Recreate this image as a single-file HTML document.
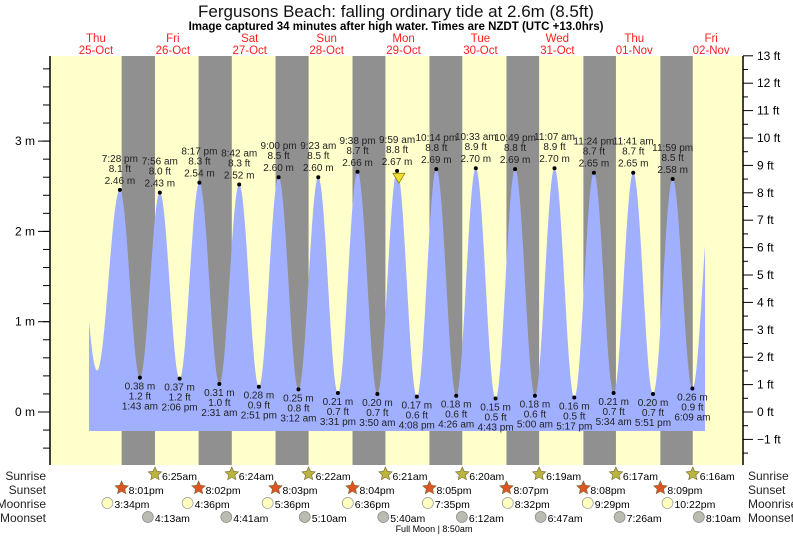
<!DOCTYPE html>
<html><head><meta charset="utf-8"><style>
body{margin:0;background:#fff;}
svg{display:block;font-family:"Liberation Sans",sans-serif;}
</style></head><body>
<svg id="s" width="793" height="537" xmlns="http://www.w3.org/2000/svg"></svg>
<script>
const s=document.getElementById('s');
let h='';
const X0=57.5, D=76.9, H=D/24;
const Y=m=>412-90.3*m;
function tx(day,hh,mm){return X0+(day-25)*D+(hh+mm/60)*H;}
h+=`<text x="396" y="17" font-size="17" text-anchor="middle" fill="#111">Fergusons Beach: falling  ordinary tide at 2.6m (8.5ft)</text>`;
h+=`<text x="396" y="30" font-size="11.5" font-weight="bold" text-anchor="middle">Image captured 34 minutes after high water. Times are NZDT (UTC +13.0hrs)</text>`;
h+=`<rect x="50" y="56" width="693" height="409" fill="#ffffcc"/>`;
const sr=[null,[6,25],[6,24],[6,22],[6,21],[6,20],[6,19],[6,17],[6,16]];
const ss=[[20,1],[20,2],[20,3],[20,4],[20,5],[20,7],[20,8],[20,9]];
for(let i=0;i<8;i++){
 const a=tx(25+i,ss[i][0],ss[i][1]); const b=tx(26+i,sr[i+1][0],sr[i+1][1]);
 h+=`<rect x="${a}" y="56" width="${b-a}" height="409" fill="#909090"/>`;
}
const ex=[
[25,12,20,0.46],[25,19,28,2.46],[26,1,43,0.38],[26,7,56,2.43],[26,14,6,0.37],[26,20,17,2.54],
[27,2,31,0.31],[27,8,42,2.52],[27,14,51,0.28],[27,21,0,2.60],[28,3,12,0.25],[28,9,23,2.60],
[28,15,31,0.21],[28,21,38,2.66],[29,3,50,0.20],[29,9,59,2.67],[29,16,8,0.17],[29,22,14,2.69],
[30,4,26,0.18],[30,10,33,2.70],[30,16,43,0.15],[30,22,49,2.69],[31,5,0,0.18],[31,11,7,2.70],
[31,17,17,0.16],[31,23,24,2.65],[32,5,34,0.21],[32,11,41,2.65],[32,17,51,0.20],[32,23,59,2.58],
[33,6,9,0.26],[33,12,20,2.5]];
const pts=ex.map(e=>[tx(e[0],e[1],e[2]),e[3]]);
pts.unshift([tx(25,6,10),2.0]);
let p=`M89 431`;
const xs=89,xe=705;
for(let x=xs;x<=xe;x+=0.5){
 let k=0;while(k<pts.length-2&&pts[k+1][0]<x)k++;
 const [x1,y1]=pts[k],[x2,y2]=pts[k+1];
 const t=(x-x1)/(x2-x1);
 const v=y1+(y2-y1)*(1-Math.cos(Math.PI*t))/2;
 p+=` L${x} ${Y(v).toFixed(1)}`;
}
p+=` L${xe} 431 Z`;
h+=`<path d="${p}" fill="#a0b0ff"/>`;
const hl=[["7:28 pm","8.1"],["7:56 am","8.0"],["8:17 pm","8.3"],["8:42 am","8.3"],["9:00 pm","8.5"],["9:23 am","8.5"],["9:38 pm","8.7"],["9:59 am","8.8"],["10:14 pm","8.8"],["10:33 am","8.9"],["10:49 pm","8.8"],["11:07 am","8.9"],["11:24 pm","8.7"],["11:41 am","8.7"],["11:59 pm","8.5"]];
const ll=[["1:43 am","1.2"],["2:06 pm","1.2"],["2:31 am","1.0"],["2:51 pm","0.9"],["3:12 am","0.8"],["3:31 pm","0.7"],["3:50 am","0.7"],["4:08 pm","0.6"],["4:26 am","0.6"],["4:43 pm","0.5"],["5:00 am","0.6"],["5:17 pm","0.5"],["5:34 am","0.7"],["5:51 pm","0.7"],["6:09 am","0.9"]];
let hi=0,lo=0;
for(let i=1;i<ex.length-1;i++){
 const e=ex[i],x=tx(e[0],e[1],e[2]),y=Y(e[3]);
 h+=`<circle cx="${x}" cy="${y}" r="2" fill="#000"/>`;
 if(e[3]>1){const l=hl[hi++];
  h+=`<text font-size="10" text-anchor="middle" fill="#222"><tspan x="${x}" y="${y-28}">${l[0]}</tspan><tspan x="${x}" y="${y-18}">${l[1]} ft</tspan><tspan x="${x}" y="${y-6}">${e[3].toFixed(2)} m</tspan></text>`;
 }else{const l=ll[lo++];
  h+=`<text font-size="10" text-anchor="middle" fill="#222"><tspan x="${x}" y="${y+12}">${e[3].toFixed(2)} m</tspan><tspan x="${x}" y="${y+22}">${l[1]} ft</tspan><tspan x="${x}" y="${y+32}">${l[0]}</tspan></text>`;
 }
}
const mx=tx(29,10,33),my=Y(2.6);
h+=`<polygon points="${mx-6},${my-4} ${mx+6},${my-4} ${mx},${my+6}" fill="#eedd33" stroke="#887700" stroke-width="0.7"/>`;
h+=`<line x1="50" y1="56" x2="50" y2="465" stroke="#000" stroke-width="1.5"/><line x1="743" y1="56" x2="743" y2="465" stroke="#000" stroke-width="1.5"/>`;
for(let m=-0.4;m<=3.9;m+=0.2){const y=Y(m);if(y<56||y>465)continue;h+=`<line x1="43" x2="50" y1="${y}" y2="${y}" stroke="#000"/>`;}
for(let m=0;m<=3;m++){h+=`<line x1="38" x2="50" y1="${Y(m)}" y2="${Y(m)}" stroke="#000"/><text x="35" y="${Y(m)+4}" font-size="12" text-anchor="end">${m} m</text>`;}
for(let f=-1.5;f<=13;f+=0.5){const y=412-f*27.4;const big=Number.isInteger(f);
 h+=`<line x1="743" x2="${big?753:748}" y1="${y}" y2="${y}" stroke="#000"/>`;
 if(big)h+=`<text x="757" y="${y+4}" font-size="12">${f<0?'\u22121':f} ft</text>`;}
const dn=["Thu","Fri","Sat","Sun","Mon","Tue","Wed","Thu","Fri"];
const dd=["25-Oct","26-Oct","27-Oct","28-Oct","29-Oct","30-Oct","31-Oct","01-Nov","02-Nov"];
for(let i=0;i<9;i++){const x=tx(25+i,12,0);h+=`<text x="${x}" y="42" font-size="11.5" fill="#ff2020" text-anchor="middle">${dn[i]}</text><text x="${x}" y="54" font-size="11.5" fill="#ff2020" text-anchor="middle">${dd[i]}</text>`;}
const rows=[["Sunrise",476],["Sunset",490],["Moonrise",504],["Moonset",518]];
rows.forEach(r=>{h+=`<text x="46" y="${r[1]+4}" font-size="12" text-anchor="end" fill="#222">${r[0]}</text><text x="748" y="${r[1]+4}" font-size="12" fill="#222">${r[0]}</text>`;});
function star(x,y,c){let q='';for(let i=0;i<10;i++){const a=-Math.PI/2+i*Math.PI/5,r=i%2?3.3:7;q+=`${(x+r*Math.cos(a)).toFixed(1)},${(y+r*Math.sin(a)).toFixed(1)} `;}return `<polygon points="${q}" fill="${c}" stroke="#776633" stroke-width="0.6"/>`;}
const srs=["6:25am","6:24am","6:22am","6:21am","6:20am","6:19am","6:17am","6:16am"];
for(let i=1;i<=8;i++){const x=tx(25+i,sr[i][0],sr[i][1]);h+=star(x,474,"#bbb440")+`<text x="${x+7}" y="480" font-size="10.5">${srs[i-1]}</text>`;}
const sss=["8:01pm","8:02pm","8:03pm","8:04pm","8:05pm","8:07pm","8:08pm","8:09pm"];
for(let i=0;i<8;i++){const x=tx(25+i,ss[i][0],ss[i][1]);h+=star(x,488,"#dd5522")+`<text x="${x+7}" y="494" font-size="10.5">${sss[i]}</text>`;}
const mr=[[15,34,"3:34pm"],[16,36,"4:36pm"],[17,36,"5:36pm"],[18,36,"6:36pm"],[19,35,"7:35pm"],[20,32,"8:32pm"],[21,29,"9:29pm"],[22,22,"10:22pm"]];
mr.forEach((m,i)=>{const x=tx(25+i,m[0],m[1]);h+=`<circle cx="${x}" cy="503" r="5.5" fill="#ffffc0" stroke="#999" stroke-width="0.7"/><text x="${x+7}" y="508" font-size="10.5">${m[2]}</text>`;});
const ms=[[4,13,"4:13am"],[4,41,"4:41am"],[5,10,"5:10am"],[5,40,"5:40am"],[6,12,"6:12am"],[6,47,"6:47am"],[7,26,"7:26am"],[8,10,"8:10am"]];
ms.forEach((m,i)=>{const x=tx(26+i,m[0],m[1]);h+=`<circle cx="${x}" cy="517" r="5.5" fill="#bbbbb0" stroke="#888" stroke-width="0.7"/><text x="${x+7}" y="522" font-size="10.5">${m[2]}</text>`;});
h+=`<text x="434" y="532" font-size="9" text-anchor="middle">Full Moon | 8:50am</text>`;
s.innerHTML=h;
</script>
</body></html>
